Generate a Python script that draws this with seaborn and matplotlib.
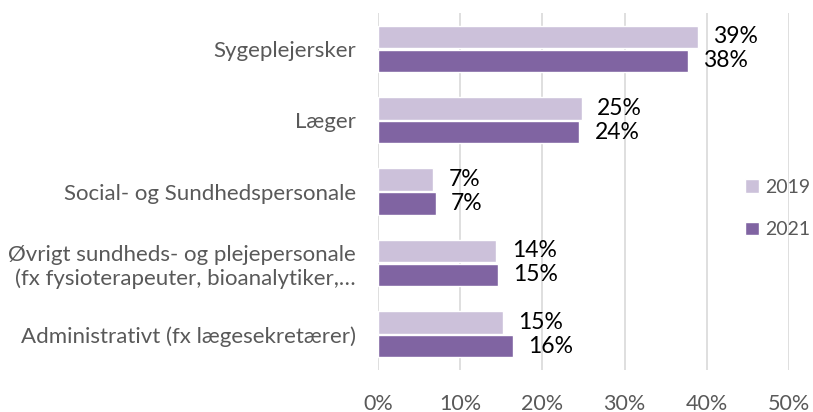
import matplotlib
import matplotlib.pyplot as plt
import pandas as pd
import seaborn as sns
from matplotlib.ticker import PercentFormatter

matplotlib.use("Agg")

categories = [
    "Sygeplejersker",
    "Læger",
    "Social- og Sundhedspersonale",
    "Øvrigt sundheds- og plejepersonale\n(fx fysioterapeuter, bioanalytiker,…",
    "Administrativt (fx lægesekretærer)",
]
years = ["2019", "2021"]
values_2019 = [0.389, 0.248, 0.067, 0.144, 0.152]
values_2021 = [0.377, 0.245, 0.070, 0.146, 0.164]
labels_2019 = ["39%", "25%", "7%", "14%", "15%"]
labels_2021 = ["38%", "24%", "7%", "15%", "16%"]

colors = ["#CCC1DA", "#8064A2"]
text_grey = "#595959"

df = pd.DataFrame({
    "category": categories * 2,
    "year": [years[0]] * len(categories) + [years[1]] * len(categories),
    "value": values_2019 + values_2021,
})

sns.set_theme(style="white")
plt.rcParams["font.family"] = ["Lato", "DejaVu Sans"]

fig, ax = plt.subplots(figsize=(8.13, 4.12), dpi=100)
fig.subplots_adjust(left=0.465, right=0.9705, top=0.968, bottom=0.102)

sns.barplot(
    data=df, x="value", y="category", hue="year", order=categories,
    hue_order=years, palette=colors, orient="h", width=0.67, gap=0.06,
    saturation=1, ax=ax,
)

for container, labels in zip(ax.containers, [labels_2019, labels_2021]):
    ax.bar_label(container, labels=labels, padding=11, fontsize=16.5, color="black")

ax.set_xlim(0, 0.5)
ax.set_xticks([0, 0.1, 0.2, 0.3, 0.4, 0.5])
ax.xaxis.set_major_formatter(PercentFormatter(1.0, decimals=0))
ax.grid(axis="x", color="#D9D9D9", linewidth=1.2)
ax.set_axisbelow(True)
for side in ["top", "right", "bottom", "left"]:
    ax.spines[side].set_visible(False)
ax.tick_params(axis="x", length=0, pad=17, labelsize=15.5, labelcolor=text_grey)
ax.tick_params(axis="y", length=0, pad=16, labelsize=16, labelcolor=text_grey)
ax.set_xlabel("")
ax.set_ylabel("")

ax.legend(
    loc="center left", bbox_to_anchor=(0.893, 0.452), frameon=False,
    fontsize=14, labelcolor=text_grey, handlelength=0.72, handleheight=0.72,
    handletextpad=0.3, labelspacing=1.3, borderpad=0, borderaxespad=0,
)

fig.savefig("out.png", dpi=100)
